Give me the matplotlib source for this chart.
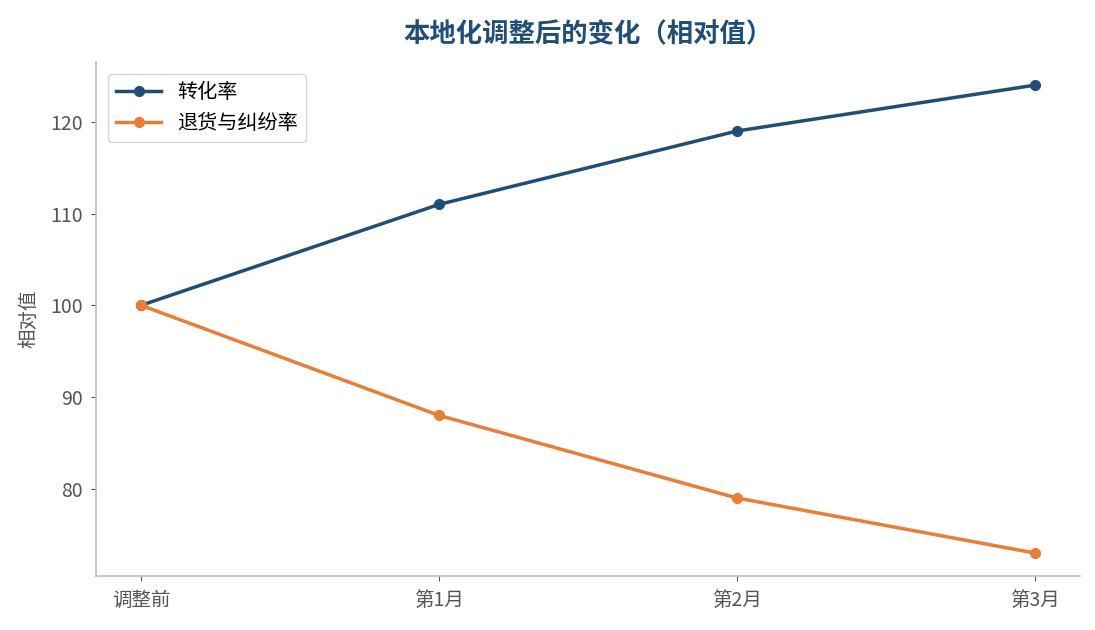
import matplotlib

matplotlib.use("Agg")
import matplotlib.pyplot as plt

plt.rcParams["font.family"] = ["Noto Sans CJK SC", "DejaVu Sans"]

periods = ["调整前", "第1月", "第2月", "第3月"]
conversion = [100, 111, 119, 124]
returns = [100, 88, 79, 73]

_BLUE = "#1f4e79"
_ORANGE = "#ed7d31"
_GREY = "#555555"

fig, ax = plt.subplots(figsize=(10.95, 6.3), dpi=100)
x = list(range(len(periods)))
ax.plot(x, conversion, color=_BLUE, lw=2.5, marker="o", ms=7, label="转化率")
ax.plot(x, returns, color=_ORANGE, lw=2.5, marker="o", ms=7, label="退货与纠纷率")

ax.set_xticks(x)
ax.set_xticklabels(periods)
ax.set_yticks([80, 90, 100, 110, 120])
ax.tick_params(labelsize=14, colors=_GREY, pad=6)
ax.set_ylabel("相对值", fontsize=14, color=_GREY, labelpad=8)
ax.set_title("本地化调整后的变化（相对值）", fontsize=19, fontweight="bold",
             color=_BLUE, pad=14)
for side in ("top", "right"):
    ax.spines[side].set_visible(False)
for side in ("left", "bottom"):
    ax.spines[side].set_color("#bfbfbf")
    ax.spines[side].set_linewidth(1.2)

leg = ax.legend(loc="upper left", fontsize=14.5, frameon=True, edgecolor="#cccccc",
                handlelength=2.2, borderaxespad=0.6)

fig.subplots_adjust(left=0.088, right=0.986, bottom=0.085, top=0.902)
fig.savefig("out.png", dpi=100, facecolor="white")
plt.close(fig)
